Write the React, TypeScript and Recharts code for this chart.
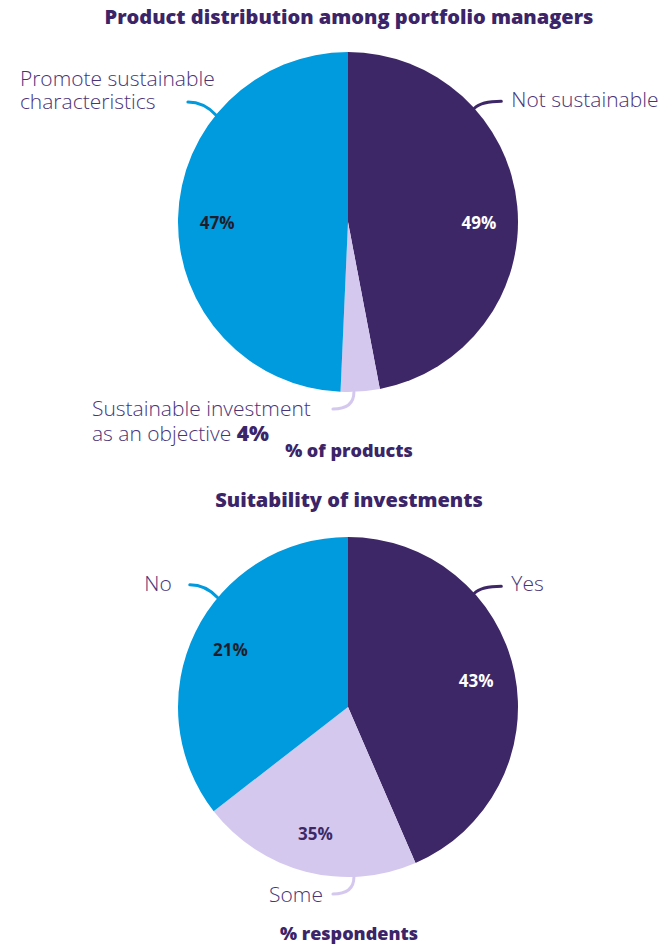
import React from 'react';
import { PieChart, Pie, Cell } from 'recharts';

// slice sizes as drawn (clockwise from 12 o'clock), printed labels as shown
const productNames = ['Not sustainable', 'Sustainable investment as an objective', 'Promote sustainable characteristics'];
const productShare = [47, 3.7, 49.3];
const productPct = ['49%', '', '47%'];

const suitabilityNames = ['Yes', 'Some', 'No'];
const suitabilityShare = [43.5, 21, 35.5];
const suitabilityPct = ['43%', '35%', '21%'];

const PURPLE = '#3d2766';
const BLUE = '#009ade';
const LAVENDER = '#d5c8ef';
const TITLE = '#3b2468';
const TEXT = '#4a3478';
const FONT = '"Open Sans", Lato, sans-serif';
const LABEL_SIZE = 21;

const sliceColors = [PURPLE, LAVENDER, BLUE];
const pctColors = ['#ffffff', '#3d2866', '#1e1e2a'];

type Callout = {
    angle: number;
    side: 'right' | 'left' | 'bottom';
    lines: { t: string; b?: boolean }[][];
    dx: number;
    dy: number;
    gap?: number;
    anchor: 'start' | 'end';
};

const productCallouts: Callout[] = [
    { angle: 48, side: 'right', lines: [[{ t: 'Not sustainable' }]], dx: 10, dy: 6, anchor: 'start' },
    {
        angle: 178, side: 'bottom',
        lines: [[{ t: 'Sustainable investment' }], [{ t: 'as an objective ' }, { t: '4%', b: true }]],
        dx: -241, dy: 8, gap: 25, anchor: 'start',
    },
    {
        angle: 309, side: 'left',
        lines: [[{ t: 'Promote sustainable' }], [{ t: 'characteristics' }]],
        dx: -168, dy: -15, gap: 23, anchor: 'start',
    },
];
const productPctAngle = [90, null, 270];

const suitabilityCallouts: Callout[] = [
    { angle: 48, side: 'right', lines: [[{ t: 'Yes' }]], dx: 10, dy: 5, anchor: 'start' },
    { angle: 178, side: 'bottom', lines: [[{ t: 'Some' }]], dx: -10, dy: 8, anchor: 'end' },
    { angle: 310, side: 'left', lines: [[{ t: 'No' }]], dx: -18, dy: 6, anchor: 'end' },
];
const suitabilityPctAngle = [null, null, null];

const RAD = Math.PI / 180;

const makeLabel = (pct: string[], callouts: Callout[], pctAngle: (number | null)[]) => (props: any) => {
    const { cx, cy, midAngle, outerRadius, index } = props;
    const clockMid = 90 - midAngle;
    const a = (pctAngle[index] ?? clockMid) * RAD;
    const r = outerRadius * 0.77;
    const px = cx + r * Math.sin(a);
    const py = cy - r * Math.cos(a);

    const c = callouts[index];
    const ca = c.angle * RAD;
    const sx = cx + outerRadius * Math.sin(ca);
    const sy = cy - outerRadius * Math.cos(ca);
    let ex = sx, ey = sy, qx = sx, qy = sy;
    if (c.side === 'right') { ex = sx + 27; ey = sy - 7; qx = sx + 7; qy = ey; }
    if (c.side === 'left') { ex = sx - 28; ey = sy - 13; qx = sx - 12; qy = ey; }
    if (c.side === 'bottom') { ex = sx - 21; ey = sy + 17; qx = sx; qy = ey; }

    const renderParts = (line: { t: string; b?: boolean }[]) =>
        line.map((part, j) => (
            <tspan key={j} fontWeight={part.b ? 800 : 300} fill={part.b ? TITLE : TEXT}>{part.t}</tspan>
        ));

    let caption: React.ReactNode;
    if (c.lines.length > 1) {
        // wrapped block, line boxes sized to the line gap
        const gap = c.gap ?? 25;
        const baseline = (gap - 1.362 * LABEL_SIZE) / 2 + 1.069 * LABEL_SIZE;
        caption = (
            <foreignObject x={ex + c.dx} y={ey + c.dy - baseline} width={260} height={gap * c.lines.length + 4}>
                <div style={{ fontFamily: FONT, fontSize: LABEL_SIZE, lineHeight: `${gap}px`, color: TEXT, fontWeight: 300, whiteSpace: 'nowrap' }}>
                    {c.lines.map((line, i) => (
                        <div key={i}>
                            {line.map((part, j) => (
                                <span key={j} style={{ fontWeight: part.b ? 800 : 300, color: part.b ? TITLE : TEXT }}>{part.t}</span>
                            ))}
                        </div>
                    ))}
                </div>
            </foreignObject>
        );
    } else {
        caption = (
            <text x={ex + c.dx} y={ey + c.dy} textAnchor={c.anchor}
                fill={TEXT} fontSize={LABEL_SIZE} fontWeight={300} fontFamily={FONT}>
                {renderParts(c.lines[0])}
            </text>
        );
    }

    return (
        <g>
            {pct[index] && (
                <text x={px} y={py} textAnchor="middle" dominantBaseline="central"
                    fill={pctColors[index]} fontSize={17} fontWeight={700} fontFamily={FONT}>
                    {pct[index]}
                </text>
            )}
            <path d={`M${sx},${sy} Q${qx},${qy} ${ex},${ey}`} fill="none"
                stroke={sliceColors[index]} strokeWidth={3} strokeLinecap="round" />
            {caption}
        </g>
    );
};

const productData = productNames.map((name, i) => ({ name, value: productShare[i] }));
const suitabilityData = suitabilityNames.map((name, i) => ({ name, value: suitabilityShare[i] }));

const heading = (top: number, size: number): React.CSSProperties => ({
    position: 'absolute', left: 0, width: 698, top, textAlign: 'center',
    fontFamily: FONT, fontWeight: 800, fontSize: size, color: TITLE, lineHeight: 1,
});

const App: React.FC = () => {
    return (
        <div style={{ position: 'absolute', left: 0, top: 0, width: 671, height: 948, background: '#fff' }}>
            <div style={heading(7, 20)}>Product distribution among portfolio managers</div>
            <div style={heading(441, 18)}>% of products</div>
            <div style={heading(490, 20)}>Suitability of investments</div>
            <div style={heading(924, 18)}>% respondents</div>
            <PieChart width={671} height={948} margin={{ top: 0, right: 0, bottom: 0, left: 0 }}>
                <Pie data={productData} dataKey="value" cx={348} cy={222} outerRadius={170}
                    startAngle={90} endAngle={-270} stroke="none" labelLine={false}
                    label={makeLabel(productPct, productCallouts, productPctAngle)} isAnimationActive={false}>
                    {productData.map((d, i) => <Cell key={d.name} fill={sliceColors[i]} />)}
                </Pie>
                <Pie data={suitabilityData} dataKey="value" cx={348} cy={707} outerRadius={170}
                    startAngle={90} endAngle={-270} stroke="none" labelLine={false}
                    label={makeLabel(suitabilityPct, suitabilityCallouts, suitabilityPctAngle)} isAnimationActive={false}>
                    {suitabilityData.map((d, i) => <Cell key={d.name} fill={sliceColors[i]} />)}
                </Pie>
            </PieChart>
        </div>
    );
};

export default App;
